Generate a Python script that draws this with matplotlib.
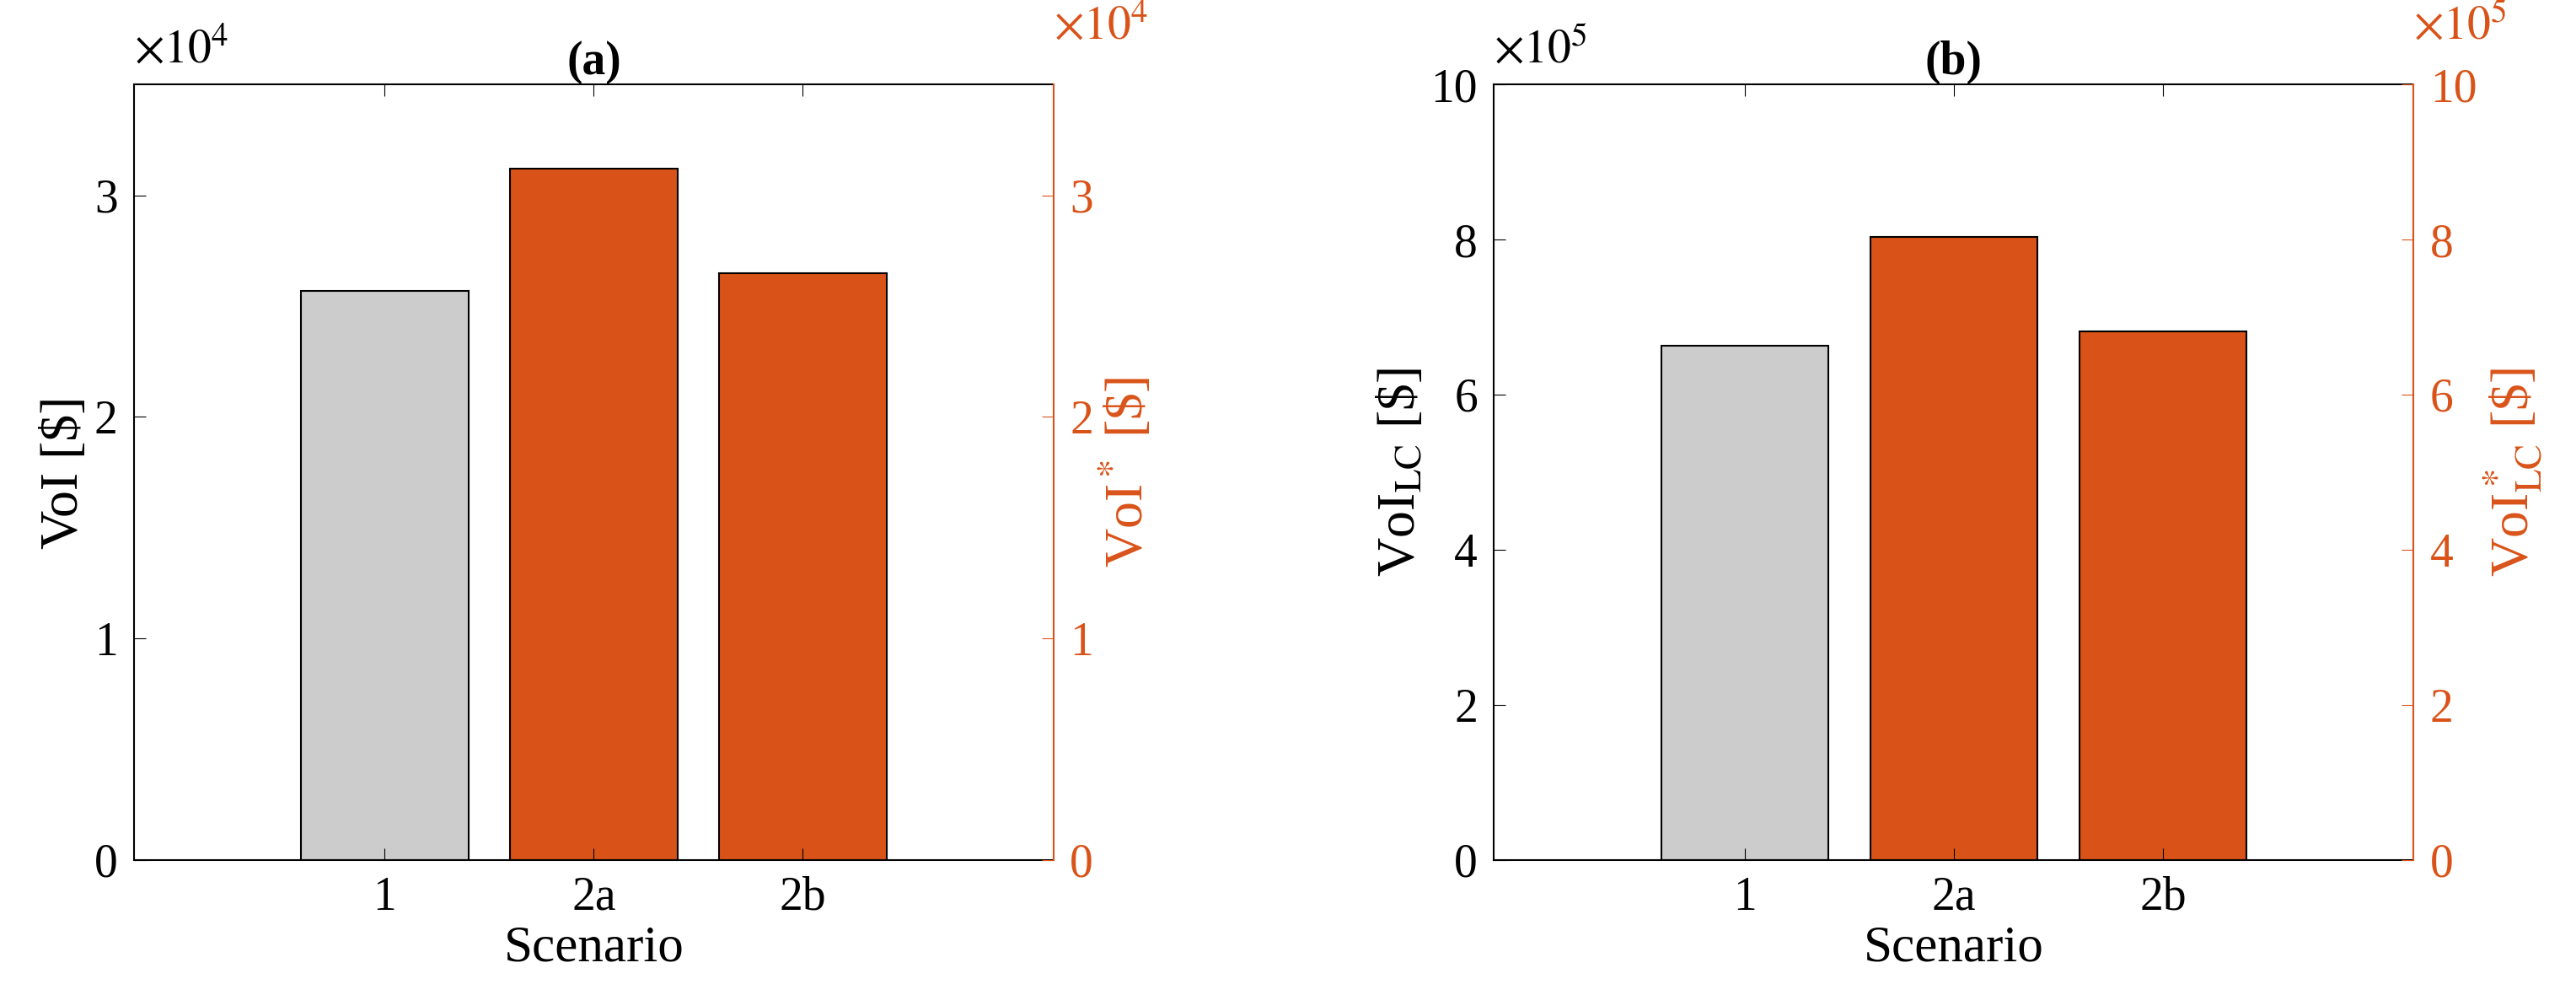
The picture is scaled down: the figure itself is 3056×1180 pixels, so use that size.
import matplotlib
matplotlib.use("Agg")
import matplotlib.pyplot as plt

plt.rcParams['font.family'] = ['Liberation Serif', 'DejaVu Serif']
plt.rcParams['mathtext.fontset'] = 'stix'

scenarios = ['1', '2a', '2b']
voi = [2.57, 3.12, 2.65]        # x10^4
voi_lc = [6.63, 8.03, 6.82]     # x10^5
colors = ['#CCCCCC', '#D95319', '#D95319']
orange = '#D95319'

fig = plt.figure(figsize=(30.56, 11.8), dpi=100)
panels = [
    (0.052, voi, 3.5, [0, 1, 2, 3], '4', '(a)', r'VoI [\$]', r'VoI$^*$ [\$]'),
    (0.580, voi_lc, 10, [0, 2, 4, 6, 8, 10], '5', '(b)', r'VoI$_{\rm LC}$ [\$]', r'VoI$^*_{\rm LC}$ [\$]'),
]
fs = 40
for left, vals, ymax, ticks, exp, title, yl, yr in panels:
    ax = fig.add_axes([left, 0.136, 0.357, 0.779])
    x = [1, 2, 3]
    ax.bar(x, vals, width=0.8, color=colors, edgecolor='black', linewidth=1.5)
    ax.set_xlim(-0.2, 4.2)
    ax.set_ylim(0, ymax)
    ax.set_xticks(x, scenarios)
    ax.set_yticks(ticks, [str(t) for t in ticks])
    ax.tick_params(labelsize=fs, direction='in', length=10, top=True, pad=14)
    ax.set_xlabel('Scenario', fontsize=fs + 4)
    ax.set_ylabel(yl, fontsize=fs + 6)
    ax.set_title(title, fontsize=fs, fontweight='bold', pad=8)
    ax.spines['right'].set_visible(False)
    for s in ['left', 'top', 'bottom']:
        ax.spines[s].set_linewidth(1.5)
    ax.text(0, 1.015, r'$\times10^{%s}$' % exp, transform=ax.transAxes, fontsize=fs, va='bottom', ha='left')
    ax2 = ax.twinx()
    ax2.set_ylim(0, ymax)
    ax2.set_yticks(ticks, [str(t) for t in ticks])
    ax2.tick_params(labelsize=fs, direction='in', length=10, colors=orange, pad=14)
    for s in ['left', 'top', 'bottom']:
        ax2.spines[s].set_visible(False)
    ax2.spines['right'].set_color(orange)
    ax2.spines['right'].set_linewidth(1.5)
    ax2.set_ylabel(yr, fontsize=fs + 6, color=orange)
    ax2.text(1.0, 1.045, r'$\times10^{%s}$' % exp, transform=ax.transAxes, fontsize=fs, va='bottom', ha='left', color=orange)

fig.savefig('out.png', dpi=100)
